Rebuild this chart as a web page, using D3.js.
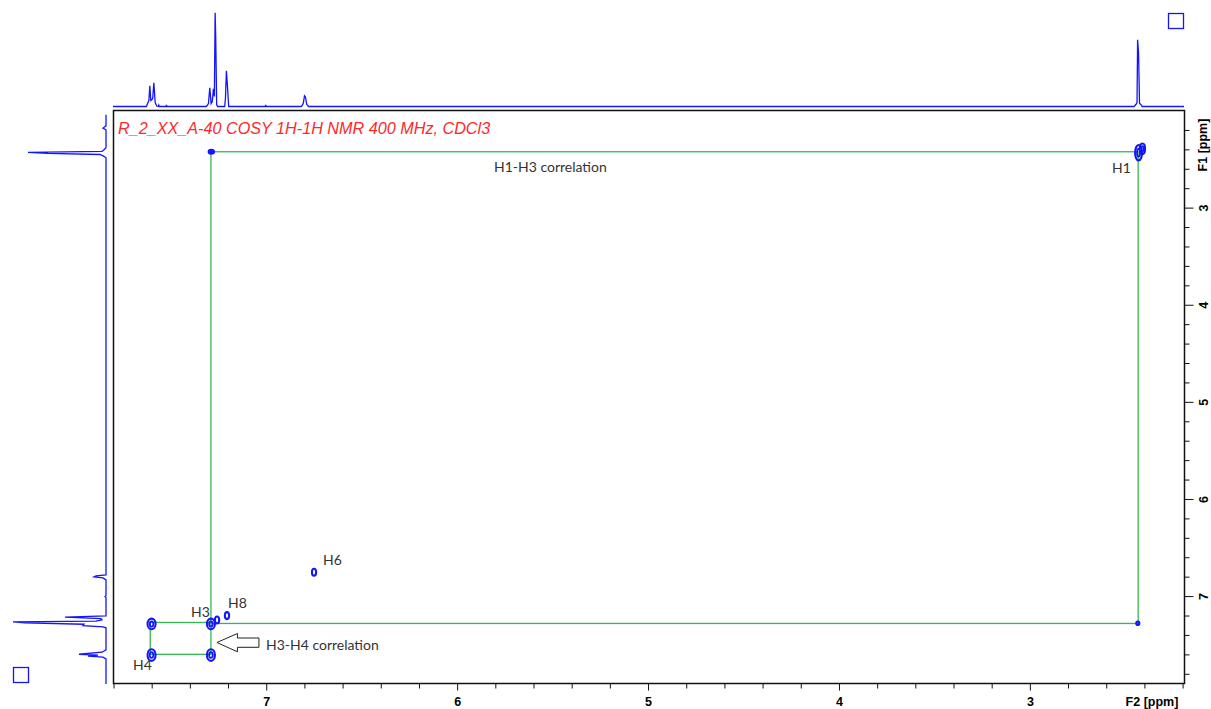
<!DOCTYPE html>
<html>
<head>
<meta charset="utf-8">
<script src="https://cdn.jsdelivr.net/npm/d3@7"></script>
<style>
  html, body { margin: 0; padding: 0; background: #fff; }
  svg { display: block; }
  .axis text { font-family: "Liberation Sans", Arial, sans-serif; font-weight: bold; font-size: 12.5px; fill: #000; }
  .axis path, .axis line { stroke: #111; }
  .note { font-family: Lato, "Open Sans", sans-serif; font-size: 14px; fill: #333; }
</style>
</head>
<body>
<svg id="chart" width="1211" height="709"></svg>
<script>
// ---- 1D projection along F2 (top trace): [ppm, intensity] vertices ----
const f2TracePpm = [7.80, 7.625, 7.619, 7.612, 7.607, 7.602, 7.597, 7.592, 7.586, 7.579, 7.571, 7.562, 7.560, 7.558,
  7.522, 7.520, 7.518, 7.312, 7.307, 7.300, 7.293, 7.286, 7.280, 7.274, 7.269, 7.265, 7.262, 7.257, 7.252,
  7.215, 7.211, 7.206, 7.201, 7.194, 7.002, 7.000, 6.998, 6.815, 6.809, 6.803, 6.797, 6.792, 6.785, 6.775,
  2.452, 2.442, 2.436, 2.433, 2.428, 2.423, 2.416, 2.409, 2.19];
const f2TraceInt = [0, 0, 3, 6, 20.7, 6, 6.7, 8, 23.7, 4, 0.5, 0, 1.3, 0,
  0, 1.5, 0, 0, 1, 3, 18.7, 3, 5, 17.7, 10, 93.7, 70, 2, 0,
  0, 8, 35.7, 22, 0, 0, 1.5, 0, 0, 1, 3.5, 10.7, 9.5, 2, 0,
  0, 2, 4, 66.7, 53, 3, 2, 0, 0];

// ---- 1D projection along F1 (left trace): [ppm, intensity] vertices ----
const f1TracePpm = [2.05, 2.163, 2.186, 2.204, 2.389, 2.410, 2.427, 2.436, 2.446, 2.458, 2.477, 2.492,
  6.787, 6.797, 6.807, 6.818, 6.838, 7.000, 7.010, 7.020,
  7.209, 7.222, 7.237, 7.250, 7.262, 7.271, 7.281, 7.295, 7.309, 7.322, 7.332,
  7.559, 7.583, 7.604, 7.614, 7.624, 7.634, 7.652, 7.91];
const f1TraceInt = [0, 0, 3, 0, 0, 2, 4, 78, 58, 6, 2, 0,
  0, 10, 12, 3, 0, 0, 1, 0,
  0, 41, 5, 4, 10, 93, 81, 22, 23, 3, 0,
  0, 4, 27, 8, 18, 3, 0, 0];

// ---- 2D contour peaks: centre (F2, F1) and half-widths, all in ppm ----
const peakF2 = [7.598, 7.598, 7.287, 7.287, 7.255, 7.203, 6.747, 2.428, 2.408, 7.285, 2.432];
const peakF1 = [7.612, 7.292, 7.612, 7.292, 7.252, 7.206, 6.759, 2.440, 2.400, 2.430, 7.284];
const peakHwF2 = [0.021, 0.021, 0.021, 0.021, 0.011, 0.011, 0.011, 0.018, 0.014, 0.014, 0.008];
const peakHwF1 = [0.060, 0.055, 0.060, 0.055, 0.036, 0.036, 0.036, 0.080, 0.055, 0.020, 0.018];

// ---- axis ticks (ppm) ----
const majorTicks = [7, 6, 5, 4, 3];
const minorTicksF2 = [7.8, 7.6, 7.4, 7.2, 6.8, 6.6, 6.4, 6.2, 5.8, 5.6, 5.4, 5.2, 4.8, 4.6, 4.4, 4.2,
  3.8, 3.6, 3.4, 3.2, 2.8, 2.6, 2.4, 2.2];
const minorTicksF1 = [2.2, 2.4, 2.6, 2.8, 3.2, 3.4, 3.6, 3.8, 4.2, 4.4, 4.6, 4.8, 5.2, 5.4, 5.6, 5.8,
  6.2, 6.4, 6.6, 6.8, 7.2, 7.4, 7.6, 7.8];

// ---- assignments used for the correlation boxes ----
const shiftH1 = 2.43, shiftH3 = 7.287, shiftH4 = 7.605;

const titleText = "R_2_XX_A-40 COSY 1H-1H NMR 400 MHz, CDCl3";

// ================= drawing =================
const svg = d3.select("#chart");
const frame = { left: 113, top: 110, right: 1184, bottom: 683 };
const blue = "#1414ff";
const green = "#35b84e";

const x = d3.scaleLinear().domain([7.80, 2.19]).range([frame.left, frame.right]);
const y = d3.scaleLinear().domain([2.0, 7.9]).range([frame.top, frame.bottom]);

// projection intensity scales
const topInt = d3.scaleLinear().domain([0, 100]).range([106.5, 6.5]);
const leftInt = d3.scaleLinear().domain([0, 100]).range([106, 6]);

// top trace
const topData = f2TracePpm.map((p, i) => [p, f2TraceInt[i]]);
svg.append("path")
  .attr("d", d3.line().x(d => x(d[0])).y(d => topInt(d[1]))(topData))
  .attr("fill", "none").attr("stroke", blue).attr("stroke-width", 1.3);

// left trace
const leftData = f1TracePpm.map((p, i) => [p, f1TraceInt[i]]);
svg.append("path")
  .attr("d", d3.line().x(d => leftInt(d[1])).y(d => y(d[0]))(leftData))
  .attr("fill", "none").attr("stroke", blue).attr("stroke-width", 1.3);

// small corner boxes
svg.append("rect").attr("x", 1168.5).attr("y", 13.5).attr("width", 15).attr("height", 15)
  .attr("fill", "none").attr("stroke", blue).attr("stroke-width", 1.3);
svg.append("rect").attr("x", 13.5).attr("y", 667.5).attr("width", 15).attr("height", 15)
  .attr("fill", "none").attr("stroke", blue).attr("stroke-width", 1.3);

// plot frame
svg.append("rect")
  .attr("x", frame.left + 0.5).attr("y", frame.top + 0.5)
  .attr("width", frame.right - frame.left).attr("height", frame.bottom - frame.top)
  .attr("fill", "none").attr("stroke", "#111").attr("stroke-width", 1.5);

// bottom axis (F2)
const gx = svg.append("g").attr("class", "axis").attr("transform", `translate(0.5,${frame.bottom + 0.5})`);
gx.call(d3.axisBottom(x).tickValues(minorTicksF2).tickSize(5).tickFormat(""));
const gxMaj = gx.append("g").call(d3.axisBottom(x).tickValues(majorTicks).tickSize(7).tickFormat(d3.format("d")));
gx.selectAll(".domain").remove();
gxMaj.selectAll(".tick text").attr("y", 22).attr("dy", null);
svg.append("text")
  .attr("x", 1152).attr("y", 705.5).attr("text-anchor", "middle")
  .style("font-family", "Liberation Sans, Arial, sans-serif").style("font-weight", "bold").style("font-size", "12.5px")
  .text("F2 [ppm]");

// right axis (F1)
const gy = svg.append("g").attr("class", "axis").attr("transform", `translate(${frame.right + 0.5},0.5)`);
gy.call(d3.axisRight(y).tickValues(minorTicksF1).tickSize(5).tickFormat(""));
const gyMaj = gy.append("g").call(d3.axisRight(y).tickValues(majorTicks).tickSize(9).tickFormat(d3.format("d")));
gy.selectAll(".domain").remove();
gyMaj.selectAll(".tick text")
  .attr("x", 0).attr("dy", null).attr("dx", null)
  .attr("text-anchor", "middle")
  .attr("transform", "translate(19,0) rotate(-90)")
  .attr("y", 0).attr("dominant-baseline", "central");
svg.append("text")
  .attr("transform", "translate(1203,145) rotate(-90)")
  .attr("text-anchor", "middle").attr("dominant-baseline", "central")
  .style("font-family", "Liberation Sans, Arial, sans-serif").style("font-weight", "bold").style("font-size", "12.5px")
  .text("F1 [ppm]");

// title
svg.append("text").attr("x", 118).attr("y", 134)
  .style("font-family", "Liberation Sans, Arial, sans-serif").style("font-style", "italic").style("font-size", "16.2px")
  .attr("fill", "#ff2828").text(titleText);

// correlation boxes
const corr = svg.append("g").attr("fill", "none").attr("stroke", green).attr("stroke-width", 1.3);
corr.append("rect")
  .attr("x", x(shiftH3)).attr("y", y(shiftH1))
  .attr("width", x(shiftH1) - x(shiftH3)).attr("height", y(shiftH3) - y(shiftH1));
corr.append("rect")
  .attr("x", x(shiftH4)).attr("y", y(shiftH3) - 1)
  .attr("width", x(shiftH3) - x(shiftH4)).attr("height", y(shiftH4) - y(shiftH3) + 1);

// contours
const peaks = peakF2.map((p, i) => ({ f2: p, f1: peakF1[i], hw2: peakHwF2[i], hw1: peakHwF1[i] }));
const cg = svg.append("g").attr("fill", "none").attr("stroke", blue);
peaks.forEach(pk => {
  const rx = Math.abs(x(pk.f2 + pk.hw2) - x(pk.f2));
  const ry = Math.abs(y(pk.f1 + pk.hw1) - y(pk.f1));
  cg.append("ellipse").attr("cx", x(pk.f2)).attr("cy", y(pk.f1)).attr("rx", rx).attr("ry", ry)
    .attr("stroke-width", 2.1);
  if (rx > 2.5) {
    cg.append("ellipse").attr("cx", x(pk.f2)).attr("cy", y(pk.f1)).attr("rx", rx * 0.45).attr("ry", ry * 0.5)
      .attr("stroke-width", 1.8);
  }
});

// annotations
const notes = [
  { t: "H1-H3 correlation", px: 494, py: 172 },
  { t: "H1", px: 1112, py: 173 },
  { t: "H6", px: 323, py: 565 },
  { t: "H8", px: 228, py: 608 },
  { t: "H3", px: 191, py: 617 },
  { t: "H4", px: 133, py: 670 },
  { t: "H3-H4 correlation", px: 266, py: 650 }
];
svg.append("g").selectAll("text").data(notes).join("text")
  .attr("class", "note").attr("x", d => d.px).attr("y", d => d.py).text(d => d.t);

// hollow arrow pointing at the H3/H4 cross peak
const tipX = x(shiftH3) + 6, tipY = 642.5;
const arrowPts = [
  [tipX, tipY], [tipX + 20.5, tipY - 9], [tipX + 20.5, tipY - 4.5], [tipX + 42, tipY - 4.5],
  [tipX + 42, tipY + 4.8], [tipX + 20.5, tipY + 4.8], [tipX + 20.5, tipY + 9.3]
];
svg.append("polygon").attr("points", arrowPts.map(p => p.join(",")).join(" "))
  .attr("fill", "#fff").attr("stroke", "#222").attr("stroke-width", 1);
</script>
</body>
</html>
